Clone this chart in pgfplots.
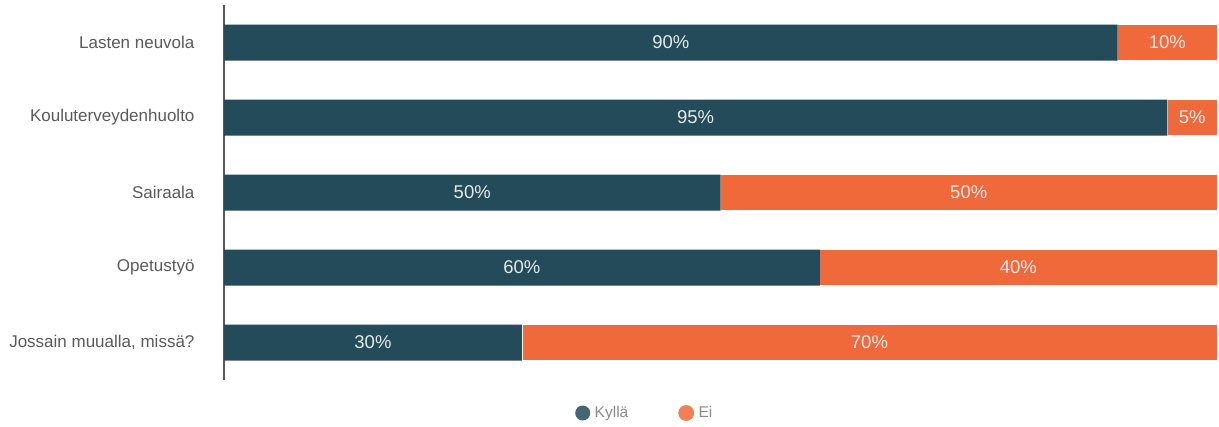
\documentclass[border=0pt]{standalone}
\usepackage{pgfplots}
\pgfplotsset{compat=1.18}
\usepackage{fontspec}
\setmainfont{Liberation Sans}
\definecolor{kyl}{HTML}{234B5A}
\definecolor{ei}{HTML}{F0693A}
\definecolor{lab}{HTML}{5A5A5A}
\definecolor{leg}{HTML}{8A8A8A}
\begin{document}
\begin{tikzpicture}
\useasboundingbox (0,0) rectangle (1219pt,426pt);
\begin{axis}[
  at={(224pt,46pt)}, anchor=south west,
  scale only axis, width=993pt, height=375pt,
  xbar stacked, bar width=36pt,
  xmin=0, xmax=100, ymin=-0.5, ymax=4.5, y dir=reverse,
  hide x axis, axis y line*=left,
  y axis line style={draw=black!65, line width=1.2pt},
  ytick={0,1,2,3,4},
  yticklabels={Lasten neuvola, Kouluterveydenhuolto, Sairaala, Opetustyö, {Jossain muualla, missä?}},
  major tick length=0pt,
  yticklabel style={font=\fontsize{17}{20}\selectfont, text=lab, xshift=-26pt},
  point meta=rawx,
  nodes near coords={\pgfmathprintnumber[assume math mode=true]{\pgfplotspointmeta}\%},
  every node near coord/.append style={font=\fontsize{18.5}{21}\selectfont, text=white!88!kyl, anchor=center},
  legend columns=2,
  legend style={at={(0.3505,-0.088)}, anchor=west, draw=none, fill=none,
    font=\fontsize{15.5}{18}\selectfont, text=leg,
    /tikz/every even column/.append style={column sep=48pt},
    /tikz/every odd column/.append style={column sep=0pt}},
]
\addplot[fill=kyl, draw=none,
  legend image code/.code={\fill[kyl!85] (0pt,0pt) circle (7.5pt); \path (10pt,0pt);}]
  coordinates {(90,0) (95,1) (50,2) (60,3) (30,4)};
\addlegendentry{Kyllä}
\addplot[fill=ei, draw=white, line width=0.8pt,
  legend image code/.code={\fill[ei!85] (0pt,0pt) circle (7.5pt); \path (10pt,0pt);}]
  coordinates {(10,0) (5,1) (50,2) (40,3) (70,4)};
\addlegendentry{Ei}
\end{axis}
\end{tikzpicture}
\end{document}
